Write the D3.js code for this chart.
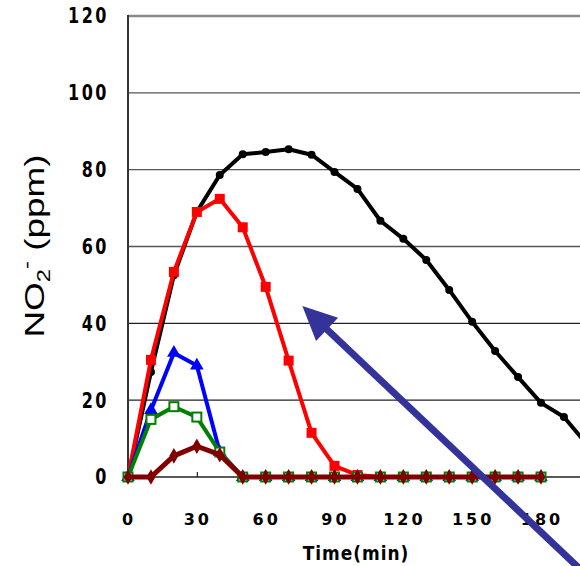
<!DOCTYPE html>
<html>
<head>
<meta charset="utf-8">
<script src="https://cdn.jsdelivr.net/npm/d3@7"></script>
<style>
  html, body { margin: 0; padding: 0; background: #fff; }
  svg { display: block; }
</style>
</head>
<body>
<svg id="chart" width="580" height="566"></svg>
<script>
// ---- data ----
const timesBlack = [0,10,20,30,40,50,60,70,80,90,100,110,120,130,140,150,160,170,180,190,200];
const times = [0,10,20,30,40,50,60,70,80,90,100,110,120,130,140,150,160,170,180];
const black = [0,27.3,52.5,69,78.6,84,84.6,85.3,83.9,79.4,75,66.7,62,56.5,48.7,40.4,32.8,26,19.3,15.6,8.5];
const red   = [0,30.5,53.4,69,72.4,65,49.5,30.3,11.5,2.9,0.5,0,0,0,0,0,0,0,0];
const blue  = [0,17.4,32.3,29,6.5,0,0,0,0,0,0,0,0,0,0,0,0,0,0];
const green = [0,15,18.3,15.6,6.5,0,0,0,0,0,0,0,0,0,0,0,0,0,0];
const brown = [0,0,5.5,8,5.8,0,0,0,0,0,0,0,0,0,0,0,0,0,0];
const xTicks = [0,30,60,90,120,150,180];
const yTicks = [0,20,40,60,80,100,120];
const arrowTip = [76, 44.5];
const arrowTail = [201.5, -26.5];

const svg = d3.select("#chart");
const x = d3.scaleLinear().domain([0,180]).range([128,541]);
const y = d3.scaleLinear().domain([0,120]).range([477,16]);

// gridlines
svg.append("g").selectAll("line").data(yTicks.filter(d => d > 0)).join("line")
  .attr("x1", 128).attr("x2", 580)
  .attr("y1", d => y(d)).attr("y2", d => y(d))
  .attr("stroke", d => d === 120 ? "#8a8a8a" : (d >= 60 ? "#555" : "#222"))
  .attr("stroke-width", d => d === 120 ? 2.5 : 1.3);

// x axis
const xAxis = d3.axisBottom(x).tickValues(xTicks).tickSize(-5).tickFormat("");
const gx = svg.append("g").attr("transform", `translate(0,${y(0)})`).call(xAxis);
gx.select(".domain").remove();
gx.selectAll(".tick line").attr("stroke", "#222").attr("stroke-width", 1.2);
svg.append("line").attr("x1", 128).attr("x2", 580).attr("y1", y(0)).attr("y2", y(0))
  .attr("stroke", "#222").attr("stroke-width", 1.3);

// y axis line
svg.append("line").attr("x1", 128).attr("x2", 128).attr("y1", y(120) - 1).attr("y2", y(0))
  .attr("stroke", "#333").attr("stroke-width", 2);

// tick labels
svg.append("g").selectAll("text").data(yTicks).join("text")
  .attr("transform", d => `translate(109,${y(d)}) scale(1,1.3)`)
  .attr("text-anchor", "end").attr("dy", "0.36em")
  .attr("font-family", "DejaVu Sans").attr("font-weight", "bold")
  .attr("font-size", 16).attr("letter-spacing", 2.5)
  .text(d => d);

svg.append("g").selectAll("text").data(xTicks).join("text")
  .attr("x", d => x(d) + 1).attr("y", 525)
  .attr("text-anchor", "middle")
  .attr("font-family", "DejaVu Sans").attr("font-weight", "bold")
  .attr("font-size", 16).attr("letter-spacing", 3)
  .text(d => d);

// axis titles
svg.append("text")
  .attr("transform", "translate(356,560) scale(1,1.15)")
  .attr("text-anchor", "middle")
  .attr("font-family", "DejaVu Sans").attr("font-weight", "bold")
  .attr("font-size", 17).attr("letter-spacing", 1)
  .text("Time(min)");

const yl = svg.append("text")
  .attr("transform", "translate(44,246) rotate(-90) scale(1.32,1)")
  .attr("text-anchor", "middle")
  .attr("font-family", "Liberation Sans, Arial, sans-serif")
  .attr("font-size", 28);
yl.append("tspan").text("NO");
yl.append("tspan").attr("font-size", 18).attr("dy", 6).text("2");
yl.append("tspan").attr("font-size", 18).attr("dy", -17).text("-");
yl.append("tspan").attr("dy", 11).text(" (ppm)");

// series
const line = d3.line();
function drawSeries(xs, ys, color, width) {
  const pts = xs.map((t, i) => [x(t), y(ys[i])]);
  svg.append("path").datum(pts)
    .attr("d", line).attr("fill", "none")
    .attr("stroke", color).attr("stroke-width", width)
    .attr("stroke-linejoin", "round");
  return pts;
}

const clip = svg.append("defs").append("clipPath").attr("id", "clip");
clip.append("rect").attr("x", 0).attr("y", 0).attr("width", 580).attr("height", 566);

const pb = drawSeries(timesBlack, black, "#000", 4);
svg.append("g").selectAll("circle").data(pb).join("circle")
  .attr("cx", d => d[0]).attr("cy", d => d[1]).attr("r", 4).attr("fill", "#000");

const pr = drawSeries(times, red, "#ff0000", 4);
svg.append("g").selectAll("rect").data(pr).join("rect")
  .attr("x", d => d[0] - 5).attr("y", d => d[1] - 5).attr("width", 10).attr("height", 10)
  .attr("fill", "#ff0000");

const pbl = drawSeries(times, blue, "#0000ff", 4);
svg.append("g").selectAll("path").data(pbl).join("path")
  .attr("d", d3.symbol(d3.symbolTriangle, 80))
  .attr("transform", d => `translate(${d[0]},${d[1]})`)
  .attr("fill", "#0000ff");

const pg = drawSeries(times, green, "#008000", 4);
svg.append("g").selectAll("rect").data(pg).join("rect")
  .attr("x", d => d[0] - 4.5).attr("y", d => d[1] - 4.5).attr("width", 9).attr("height", 9)
  .attr("fill", "#fff").attr("stroke", "#008000").attr("stroke-width", 2);

const pbr = drawSeries(times, brown, "#800000", 5);
svg.append("g").selectAll("path").data(pbr).join("path")
  .attr("d", d3.symbol(d3.symbolDiamond, 70))
  .attr("transform", d => `translate(${d[0]},${d[1]})`)
  .attr("fill", "#800000");

// arrow annotation
const tip = [x(arrowTip[0]), y(arrowTip[1])];
const tail = [x(arrowTail[0]), y(arrowTail[1])];
const ang = Math.atan2(tail[1] - tip[1], tail[0] - tip[0]);
const headLen = 34, headHalf = 16;
const bx = tip[0] + headLen * Math.cos(ang), by = tip[1] + headLen * Math.sin(ang);
const px = -Math.sin(ang), py = Math.cos(ang);
svg.append("line")
  .attr("x1", bx - 4 * Math.cos(ang)).attr("y1", by - 4 * Math.sin(ang))
  .attr("x2", tail[0]).attr("y2", tail[1])
  .attr("stroke", "#333399").attr("stroke-width", 7);
svg.append("path")
  .attr("d", `M${tip[0]},${tip[1]}L${bx + px * headHalf},${by + py * headHalf}L${bx - px * headHalf},${by - py * headHalf}Z`)
  .attr("fill", "#333399");
</script>
</body>
</html>
